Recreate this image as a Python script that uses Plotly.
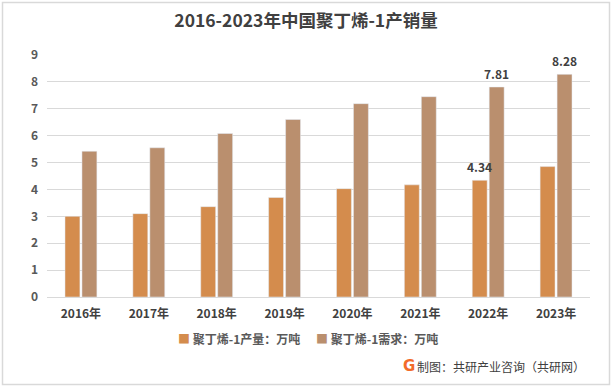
import plotly.graph_objects as go

years = ["2016年", "2017年", "2018年", "2019年", "2020年", "2021年", "2022年", "2023年"]
production = [3.0, 3.1, 3.36, 3.7, 4.03, 4.17, 4.34, 4.85]
demand = [5.42, 5.55, 6.08, 6.6, 7.19, 7.45, 7.81, 8.28]
prod_labels = ["", "", "", "", "", "", "4.34", ""]
dem_labels = ["", "", "", "", "", "", "7.81", "8.28"]
names = ["聚丁烯-1产量：万吨", "聚丁烯-1需求：万吨"]
colors = ["#D48C4D", "#BA8F6E"]

FONT = "Noto Sans CJK SC"
L, R, T, B = 47, 22, 55, 90
W, H = 612, 387
PW, PH = W - L - R, H - T - B
BARGAP, GROUPGAP = 0.5, 0.12


def px(x):
    return (x - L) / PW


def py(y):
    return (H - B - y) / PH


fig = go.Figure()
for vals, name, col in [(production, names[0], colors[0]), (demand, names[1], colors[1])]:
    fig.add_trace(go.Bar(x=years, y=vals, name=name, marker_color=col))

# value labels above bars (annotations so no bar covers them)
slot = PW / len(years) * (1 - BARGAP) / 2
for vals, labels, shift in [(production, prod_labels, -slot / 2), (demand, dem_labels, slot / 2)]:
    for yr, v, lab in zip(years, vals, labels):
        if lab:
            fig.add_annotation(x=yr, y=v, text=f"<b>{lab}</b>", showarrow=False,
                               xshift=shift, yshift=3, yanchor="bottom",
                               font=dict(size=12, color="#404040", family=FONT))

fig.update_layout(
    width=W, height=H,
    margin=dict(l=L, r=R, t=T, b=B, autoexpand=False),
    paper_bgcolor="white", plot_bgcolor="white",
    font=dict(family=FONT, color="#595959"),
    title=dict(text="<b>2016-2023年中国聚丁烯-1产销量</b>", x=0.5, xanchor="center",
               y=1 - 21 / H, yanchor="middle", font=dict(size=17.5, color="#404040", family=FONT)),
    barmode="group", bargap=BARGAP, bargroupgap=GROUPGAP,
    showlegend=False,
    xaxis=dict(showgrid=False, showline=True, linecolor="#D9D9D9", ticks="", automargin=False,
               ticklabelstandoff=6,
               tickfont=dict(size=12, color="#404040", family=FONT)),
    yaxis=dict(range=[0, 9], dtick=1, showgrid=True, gridcolor="#D9D9D9", gridwidth=1,
               zeroline=False, showline=False, ticks="", automargin=False,
               ticklabelstandoff=8,
               tickfont=dict(size=12, color="#595959", family=FONT)),
)

fig.update_xaxes(tickprefix="<b>", ticksuffix="</b>")
fig.update_yaxes(tickprefix="<b>", ticksuffix="</b>")

# outer border of the chart
fig.add_shape(type="rect", xref="paper", yref="paper",
              x0=px(2.5), x1=px(609.5), y0=py(384.5), y1=py(2.5),
              line=dict(color="#D9D9D9", width=1.5), layer="below")

# legend built as text
legend_y = py(338)
for xpos, name, col in [(176, names[0], colors[0]), (314, names[1], colors[1])]:
    fig.add_annotation(xref="paper", yref="paper", x=px(xpos), y=legend_y,
                       text=f"<span style='color:{col}'>■</span> <b>{name}</b>",
                       showarrow=False, xanchor="left", yanchor="middle",
                       font=dict(size=12, color="#595959", family=FONT))

# footer
fig.add_annotation(xref="paper", yref="paper", x=px(409), y=py(366),
                   text="<b>G</b>", showarrow=False, xanchor="center", yanchor="middle",
                   font=dict(size=15, color="#F26B2A", family="DejaVu Sans"))
fig.add_annotation(xref="paper", yref="paper", x=px(587), y=py(366),
                   text="制图：共研产业咨询（共研网）", showarrow=False, xanchor="right",
                   yanchor="middle", font=dict(size=12, color="#404040", family=FONT))

fig.write_html("out.html", config={"displayModeBar": False},
               post_script="document.body.style.margin='0';")
